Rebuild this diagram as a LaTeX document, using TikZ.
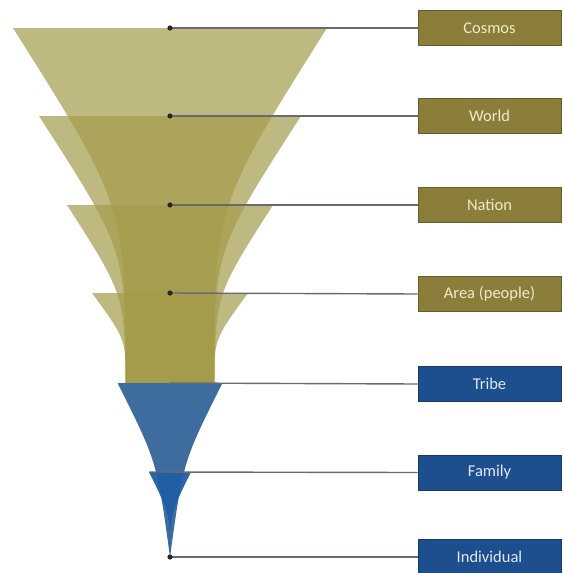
\documentclass[tikz,border=0pt]{standalone}
\usepackage{fontspec}
\setmainfont{Carlito}
\definecolor{goldfill}{RGB}{163,155,74}
\definecolor{goldbox}{RGB}{138,126,58}
\definecolor{goldtext}{RGB}{240,234,200}
\definecolor{tribefill}{RGB}{62,108,158}
\definecolor{familyfill}{RGB}{32,94,164}
\definecolor{bluebox}{RGB}{29,79,143}
\definecolor{bluetext}{RGB}{225,232,245}
\definecolor{connclr}{RGB}{105,105,115}
% gold horn: top y, top half width, bottom half width (bottom at y=386)
\newcommand\goldhorn[4]{%
  \fill[#4] ({170-#2},#1) .. controls ({170-#3},{(#1+386)/2}) .. ({170-#3},386)
     -- ({170+#3},386) .. controls ({170+#3},{(#1+386)/2}) .. ({170+#2},#1) -- cycle;}
% pointed horn to apex (170,557): top y, half width, control factors
\newcommand\pointhorn[5]{%
  \fill[#5] ({170-#2},#1) .. controls ({170-#3*#2},{#1+#4*(557-#1)}) .. (170,557)
     .. controls ({170+#3*#2},{#1+#4*(557-#1)}) .. ({170+#2},#1) -- cycle;}
\begin{document}
\begin{tikzpicture}[x=1pt,y=-1pt,
  goldlayer/.style={fill=goldfill,fill opacity=0.7},
  tribelayer/.style={fill=tribefill},
  familylayer/.style={fill=familyfill,fill opacity=0.95},
  box/.style={minimum width=143pt,minimum height=35pt,inner sep=0pt,
    font=\fontsize{16.5}{19}\selectfont},
  goldbx/.style={box,fill=goldbox,draw=goldbox!75!black,line width=0.8pt,text=goldtext},
  bluebx/.style={box,fill=bluebox,draw=bluebox!75!black,line width=0.8pt,text=bluetext},
  conn/.style={draw=connclr,line width=1.4pt},
  dot/.style={fill=black!85}]
\useasboundingbox (0,0) rectangle (564,573);
% funnel layers
\goldhorn{28}{157}{44}{goldlayer}
\goldhorn{116}{131}{44}{goldlayer}
\goldhorn{205}{103}{45}{goldlayer}
\goldhorn{293}{78}{44}{goldlayer}
\pointhorn{383}{52.5}{0.25}{0.45}{tribelayer}
\pointhorn{472}{21}{0}{0.5}{familylayer}
% anchor points
\coordinate (pc) at (170,28);
\coordinate (pw) at (170,116);
\coordinate (pn) at (170,205);
\coordinate (pa) at (170,293);
\coordinate (pt) at (170,383);
\coordinate (pf) at (149,472);
\coordinate (pi) at (170,557);
% boxes
\node[goldbx] (cosmos) at (489.5,28) {Cosmos};
\node[goldbx] (world) at (489.5,116) {World};
\node[goldbx] (nation) at (489.5,205) {Nation};
\node[goldbx] (area) at (489.5,294) {Area (people)};
\node[bluebx] (tribe) at (489.5,384) {Tribe};
\node[bluebx] (family) at (489.5,472.5) {Family};
\node[bluebx] (indiv) at (489.5,557) {Individual};
% connectors
\draw[conn] (pc) -- (cosmos.west);
\draw[conn] (pw) -- (world.west);
\draw[conn] (pn) -- (nation.west);
\draw[conn] (pa) -- (area.west);
\draw[conn] (pt) -- (tribe.west);
\draw[conn] (pf) -- (family.west);
\draw[conn] (pi) -- (indiv.west);
% dots
\foreach \p in {pc,pw,pn,pa,pi} \fill[dot] (\p) circle (2.6);
\end{tikzpicture}
\end{document}
